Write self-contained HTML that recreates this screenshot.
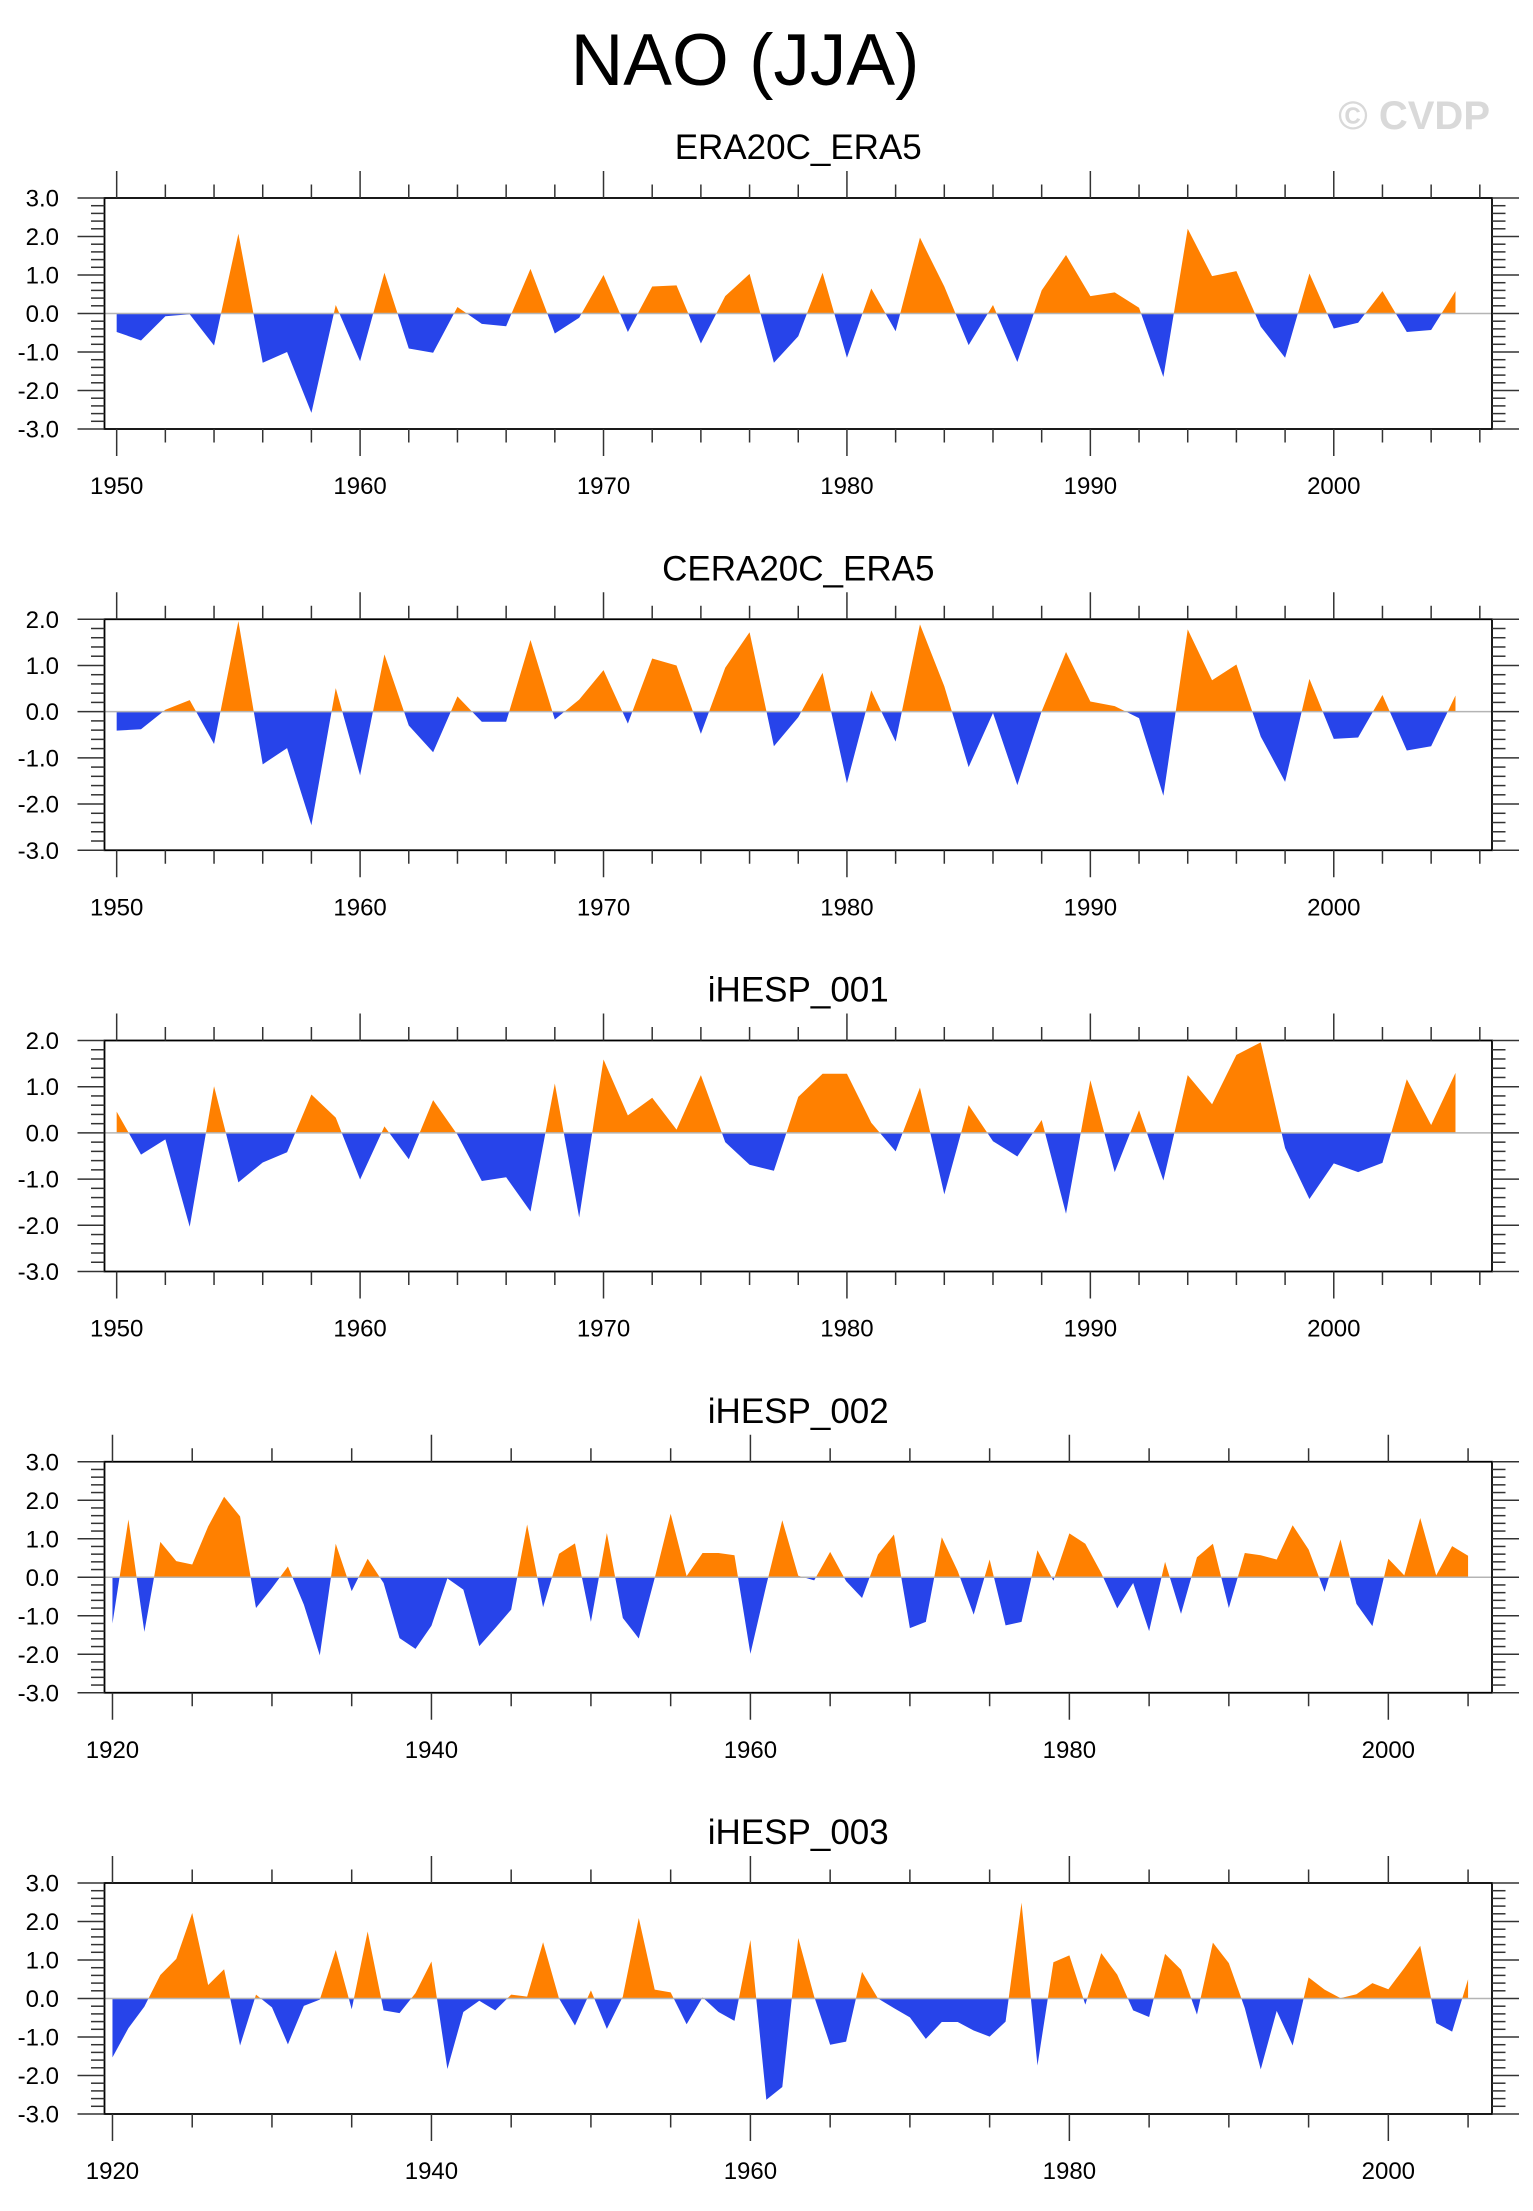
<!DOCTYPE html>
<html><head><meta charset="utf-8"><style>
html,body{margin:0;padding:0;background:#fff;}
svg{display:block;font-family:"Liberation Sans",Arial,sans-serif;}
</style></head><body>
<svg id="chart" width="1533" height="2211" viewBox="0 0 1533 2211" xmlns="http://www.w3.org/2000/svg">
<text x="745" y="85" font-size="73" text-anchor="middle" fill="#000">NAO (JJA)</text>
<text x="1490" y="129" font-size="40" font-weight="bold" text-anchor="end" fill="#d9d9d9">© CVDP</text>
</svg>
<script>
const titles = ["ERA20C_ERA5","CERA20C_ERA5","iHESP_001","iHESP_002","iHESP_003"];
const startYears = [1950,1950,1950,1920,1920];
const yMins = [-3,-3,-3,-3,-3];
const yMaxs = [3,2,2,3,3];
const era20c = [-0.48,-0.7,-0.07,-0.02,-0.83,2.07,-1.28,-1.0,-2.58,0.22,-1.24,1.06,-0.91,-1.02,0.17,-0.27,-0.33,1.16,-0.52,-0.11,1.0,-0.48,0.7,0.73,-0.78,0.45,1.03,-1.28,-0.59,1.06,-1.15,0.65,-0.46,1.97,0.7,-0.82,0.22,-1.26,0.6,1.52,0.45,0.55,0.15,-1.65,2.2,0.97,1.1,-0.34,-1.15,1.04,-0.39,-0.24,0.58,-0.48,-0.43,0.58];
const cera20c = [-0.41,-0.38,0.04,0.25,-0.7,1.96,-1.14,-0.79,-2.46,0.51,-1.38,1.24,-0.3,-0.88,0.33,-0.22,-0.22,1.55,-0.17,0.26,0.9,-0.26,1.15,1.0,-0.48,0.95,1.72,-0.75,-0.12,0.84,-1.55,0.46,-0.65,1.89,0.55,-1.2,-0.03,-1.59,0.01,1.29,0.22,0.12,-0.14,-1.82,1.78,0.68,1.02,-0.54,-1.52,0.71,-0.59,-0.56,0.36,-0.84,-0.75,0.35];
const ihesp001 = [0.46,-0.47,-0.14,-2.03,1.01,-1.07,-0.64,-0.42,0.83,0.33,-1.01,0.14,-0.57,0.71,-0.04,-1.04,-0.96,-1.7,1.07,-1.83,1.59,0.38,0.76,0.07,1.25,-0.2,-0.69,-0.82,0.78,1.28,1.28,0.22,-0.4,0.98,-1.33,0.6,-0.18,-0.51,0.28,-1.75,1.14,-0.85,0.49,-1.03,1.25,0.62,1.69,1.96,-0.33,-1.43,-0.66,-0.85,-0.65,1.16,0.17,1.3];
const ihesp002 = [-1.2,1.5,-1.42,0.92,0.42,0.33,1.32,2.09,1.58,-0.8,-0.28,0.28,-0.71,-2.03,0.87,-0.36,0.48,-0.15,-1.58,-1.86,-1.26,-0.03,-0.32,-1.79,-1.32,-0.84,1.37,-0.78,0.61,0.88,-1.16,1.15,-1.06,-1.59,-0.02,1.65,0.03,0.63,0.63,0.57,-1.99,-0.2,1.48,0.04,-0.08,0.66,-0.1,-0.54,0.59,1.11,-1.32,-1.16,1.04,0.16,-0.97,0.46,-1.25,-1.16,0.7,-0.09,1.14,0.87,0.11,-0.81,-0.15,-1.4,0.4,-0.95,0.52,0.87,-0.8,0.63,0.57,0.46,1.35,0.72,-0.38,0.98,-0.69,-1.27,0.48,0.05,1.54,0.05,0.81,0.56];
const ihesp003 = [-1.53,-0.77,-0.21,0.61,1.03,2.22,0.35,0.76,-1.22,0.1,-0.23,-1.19,-0.19,-0.03,1.26,-0.28,1.74,-0.31,-0.38,0.14,0.96,-1.83,-0.35,-0.06,-0.31,0.1,0.05,1.46,0.0,-0.7,0.21,-0.79,0.05,2.09,0.23,0.16,-0.67,0.03,-0.35,-0.58,1.52,-2.63,-2.3,1.57,0.05,-1.2,-1.12,0.69,0.0,-0.25,-0.49,-1.05,-0.61,-0.61,-0.83,-0.99,-0.6,2.49,-1.74,0.94,1.12,-0.16,1.18,0.62,-0.31,-0.48,1.16,0.75,-0.42,1.45,0.92,-0.25,-1.84,-0.32,-1.22,0.55,0.23,0.01,0.11,0.4,0.24,0.79,1.37,-0.64,-0.86,0.5];
const seriesList = [era20c,cera20c,ihesp001,ihesp002,ihesp003];
const slugs = ["era20c-era5","cera20c-era5","ihesp-001","ihesp-002","ihesp-003"];

const NS = "http://www.w3.org/2000/svg";
const svg = document.getElementById("chart");
function mk(tag, attrs, parent){
  const e = document.createElementNS(NS, tag);
  for (const k in attrs) e.setAttribute(k, attrs[k]);
  (parent||svg).appendChild(e);
  return e;
}
const L = 104.5, R = 1492, H = 231;
const ORANGE = "#ff8000", BLUE = "#2744ea";

seriesList.forEach((vals, i) => {
  const top = 198 + i * 421.25, bot = top + H;
  const y0 = startYears[i], yEnd = 2006.5, xStart = y0 - 0.5;
  const X = yr => L + (yr - xStart) / (yEnd - xStart) * (R - L);
  const Y = v => bot - (v - yMins[i]) / (yMaxs[i] - yMins[i]) * H;
  const g = mk("g", {});
  
  

  const t = mk("text", {x:(L+R)/2, y: top-39, "font-size":35, "text-anchor":"middle", fill:"#000"}, g);
  t.textContent = titles[i];
  
  

  const defs = mk("defs", {}, g);
  const cpA = mk("clipPath", {id:"ca"+i}, defs);
  mk("rect", {x:L, y:top, width:R-L, height:Y(0)-top}, cpA);
  const cpB = mk("clipPath", {id:"cb"+i}, defs);
  mk("rect", {x:L, y:Y(0), width:R-L, height:bot-Y(0)}, cpB);

  let pts = `${X(y0)},${Y(0)} `;
  vals.forEach((v, k) => { pts += `${X(y0+k).toFixed(2)},${Y(v).toFixed(2)} `; });
  pts += `${X(y0+vals.length-1)},${Y(0)}`;
  const pa = mk("polygon", {points:pts, fill:ORANGE, "clip-path":`url(#ca${i})`}, g);
  
  
  const pb = mk("polygon", {points:pts, fill:BLUE, "clip-path":`url(#cb${i})`}, g);
  
  

  const zl = mk("line", {x1:L, x2:R, y1:Y(0), y2:Y(0), stroke:"#b4b4b4", "stroke-width":1.5}, g);
  
  

  const fr = mk("rect", {x:L, y:top, width:R-L, height:H, fill:"none", stroke:"#000", "stroke-width":1.8}, g);
  
  

  const steps = Math.round((yMaxs[i]-yMins[i])/0.2);
  for (let s = 0; s <= steps; s++) {
    const v = yMins[i] + s*0.2;
    const major = s % 5 === 0;
    const len = major ? 27 : 13.5;
    const yy = Y(v);
    mk("line", {x1:L-len, x2:L, y1:yy, y2:yy, stroke:"#333", "stroke-width":1.5}, g);
    mk("line", {x1:R, x2:R+len, y1:yy, y2:yy, stroke:"#333", "stroke-width":1.5}, g);
    if (major) {
      const lab = mk("text", {x:59, y:yy+8.5, "font-size":24, "text-anchor":"end", fill:"#000"}, g);
      lab.textContent = v.toFixed(1);
      
      
    }
  }
  const minorStep = y0 === 1950 ? 2 : 5, majorStep = y0 === 1950 ? 10 : 20;
  for (let yr = y0; yr <= 2006; yr += minorStep) {
    const major = (yr - y0) % majorStep === 0;
    const len = major ? 27 : 13.5;
    const xx = X(yr);
    mk("line", {x1:xx, x2:xx, y1:top-len, y2:top, stroke:"#333", "stroke-width":1.5}, g);
    mk("line", {x1:xx, x2:xx, y1:bot, y2:bot+len, stroke:"#333", "stroke-width":1.5}, g);
    if (major) {
      const lab = mk("text", {x:xx, y:bot+65, "font-size":24, "text-anchor":"middle", fill:"#000"}, g);
      lab.textContent = yr;
      
      
    }
  }
});
</script>
</body></html>
